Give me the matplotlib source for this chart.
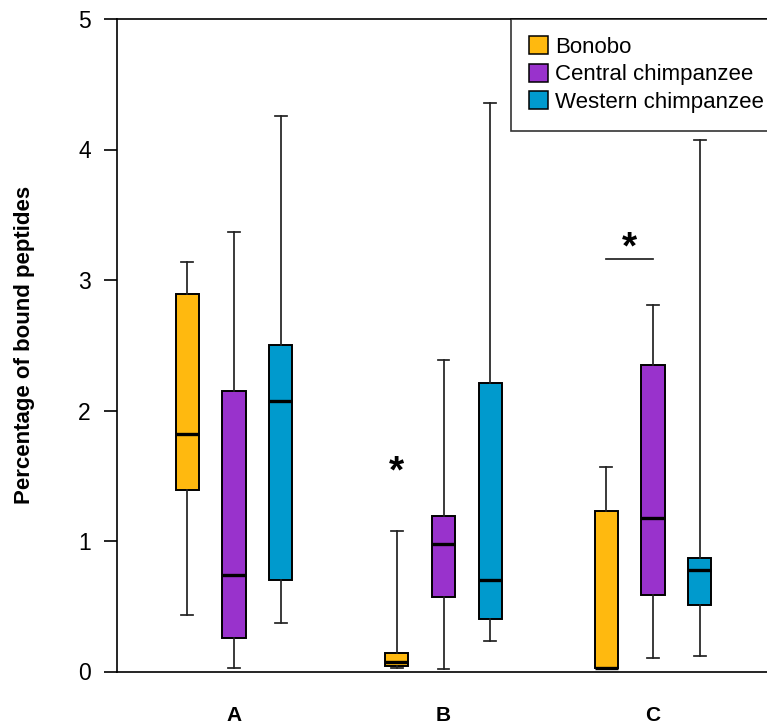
import matplotlib
matplotlib.use("Agg")
import matplotlib.pyplot as plt
from matplotlib.patches import Patch

plt.rcParams['font.family'] = ['Liberation Sans', 'DejaVu Sans']

groups = ['A', 'B', 'C']
species = ['Bonobo', 'Central chimpanzee', 'Western chimpanzee']
colors = ['#FFB90F', '#9932CC', '#009ACD']

# per species: values for groups A, B, C
bonobo_whislo = [0.43, 0.03, 0.03]
bonobo_q1     = [1.39, 0.04, 0.03]
bonobo_med    = [1.82, 0.07, 0.03]
bonobo_q3     = [2.89, 0.14, 1.23]
bonobo_whishi = [3.14, 1.08, 1.57]

central_whislo = [0.03, 0.02, 0.10]
central_q1     = [0.26, 0.57, 0.59]
central_med    = [0.74, 0.98, 1.18]
central_q3     = [2.15, 1.19, 2.35]
central_whishi = [3.37, 2.39, 2.81]

western_whislo = [0.37, 0.23, 0.12]
western_q1     = [0.70, 0.40, 0.51]
western_med    = [2.07, 0.70, 0.78]
western_q3     = [2.50, 2.21, 0.87]
western_whishi = [4.26, 4.36, 4.07]

sig_B_y = 1.586   # asterisk above bonobo B
sig_C_y = 3.16    # bracket bonobo–central in C
sig_C_star_y = 3.30

stats_by_species = [
    (bonobo_whislo, bonobo_q1, bonobo_med, bonobo_q3, bonobo_whishi),
    (central_whislo, central_q1, central_med, central_q3, central_whishi),
    (western_whislo, western_q1, western_med, western_q3, western_whishi),
]

W, H = 767, 724
fig = plt.figure(figsize=(W / 100, H / 100), dpi=100)
ax = fig.add_axes([117 / W, (H - 671.5) / H, 1 - 117 / W, (671.5 - 19) / H])

offsets = [-0.223, 0.0, 0.223]
box_w = 0.11
cap_w = 0.057

for si, (wl, q1, md, q3, wh) in enumerate(stats_by_species):
    stats = []
    pos = []
    for gi in range(len(groups)):
        stats.append(dict(whislo=wl[gi], q1=q1[gi], med=md[gi], q3=q3[gi],
                          whishi=wh[gi], fliers=[]))
        pos.append(gi + 1 + offsets[si])
    ax.bxp(stats, positions=pos, widths=box_w, capwidths=cap_w,
           patch_artist=True, showfliers=False,
           boxprops=dict(facecolor=colors[si], edgecolor='black', linewidth=1.4),
           medianprops=dict(color='black', linewidth=2.4, solid_capstyle='butt'),
           whiskerprops=dict(color='#222222', linewidth=1.25),
           capprops=dict(color='#222222', linewidth=1.25),
           manage_ticks=False, zorder=3)

# significance marks
star_kw = dict(ha='center', va='center', fontsize=28, fontweight='bold',
               textcoords='offset points', xytext=(0, -5.5))
ax.annotate('*', xy=(2 + offsets[0], sig_B_y), **star_kw)
xb, xc = 3 + offsets[0], 3 + offsets[1]
ax.plot([xb, xc], [sig_C_y, sig_C_y], color='#222222', linewidth=1.25)
ax.annotate('*', xy=((xb + xc) / 2, sig_C_star_y), **star_kw)

ax.set_xlim(0.4415, 0.4415 + 650 / 209.5)
ax.set_ylim(0, 5)
ax.set_yticks([0, 1, 2, 3, 4, 5])
ax.set_yticklabels(['0', '1', '2', '3', '4', '5'], fontsize=16.5)
ax.tick_params(axis='y', length=9.4, width=1.2, pad=9.5)
ax.set_xticks([1, 2, 3])
ax.set_xticklabels(groups, fontsize=15, fontweight='bold')
ax.tick_params(axis='x', length=0, pad=24.5)

for s in ['left', 'top', 'bottom']:
    ax.spines[s].set_linewidth(1.2)
ax.spines['right'].set_visible(False)

ax.set_ylabel('Percentage of bound peptides', fontsize=16, fontweight='bold',
              labelpad=31)

handles = [Patch(facecolor=c, edgecolor='black', linewidth=1.1) for c in colors]
leg = fig.legend(handles, species, loc='upper left',
                 bbox_to_anchor=(511 / W, 1 - 18.7 / H), fontsize=16,
                 frameon=True, fancybox=False, edgecolor='black',
                 handlelength=0.86, handleheight=0.86, handletextpad=0.32,
                 labelspacing=0.26, borderpad=0.8, borderaxespad=0)
leg.get_frame().set_linewidth(1.2)

fig.savefig('out.png', dpi=100)
